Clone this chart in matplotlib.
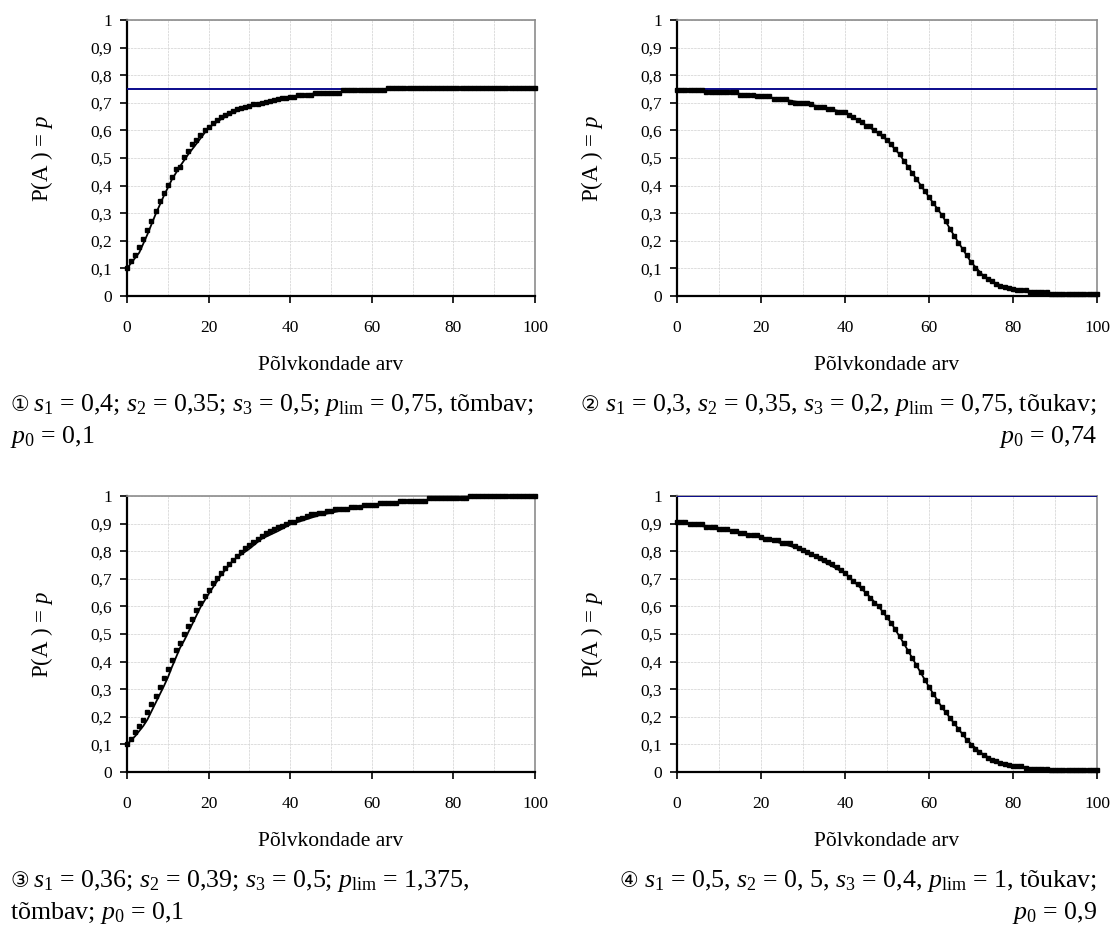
import matplotlib
matplotlib.use("Agg")
import matplotlib.pyplot as plt
from matplotlib.ticker import MultipleLocator

plt.rcParams['font.family'] = ['Liberation Serif', 'DejaVu Sans']
plt.rcParams['mathtext.fontset'] = 'custom'
plt.rcParams['mathtext.rm'] = 'Liberation Serif'
plt.rcParams['mathtext.it'] = 'Liberation Serif:italic'

# generations 0..100 for the dotted series
gens = list(range(101))

# panel 1: attracting, p0 = 0.1
dots1 = [0.100, 0.126, 0.148, 0.177, 0.205, 0.240, 0.271, 0.308, 0.344, 0.373,
         0.401, 0.431, 0.459, 0.468, 0.503, 0.527, 0.550, 0.565, 0.583, 0.600,
         0.614, 0.626, 0.637, 0.648, 0.656, 0.664, 0.671, 0.677, 0.681, 0.686,
         0.689, 0.694, 0.697, 0.700, 0.703, 0.707, 0.710, 0.713, 0.716, 0.719,
         0.722, 0.722, 0.728, 0.728, 0.728, 0.728, 0.737, 0.737, 0.737, 0.737,
         0.737, 0.737, 0.737, 0.745, 0.745, 0.745, 0.745, 0.745, 0.745, 0.745,
         0.745, 0.745, 0.745, 0.745, 0.752, 0.752, 0.752, 0.752, 0.752, 0.752,
         0.752, 0.752, 0.752, 0.752, 0.752, 0.752, 0.752, 0.752, 0.752, 0.752,
         0.752, 0.752, 0.752, 0.752, 0.752, 0.752, 0.752, 0.752, 0.752, 0.752,
         0.752, 0.752, 0.752, 0.752, 0.752, 0.752, 0.752, 0.752, 0.752, 0.752,
         0.752]
line1_x = [0, 3, 5, 7, 9, 11, 13, 15, 17.5, 20, 23, 26, 30, 35, 40, 46, 55, 65, 80, 100]
line1_y = [0.100, 0.157, 0.223, 0.296, 0.362, 0.422, 0.470, 0.513, 0.561, 0.610,
           0.640, 0.664, 0.688, 0.706, 0.720, 0.734, 0.742, 0.748, 0.750, 0.750]

# panel 2: repelling, p0 = 0.74
dots2 = [0.745, 0.745, 0.745, 0.745, 0.745, 0.745, 0.745, 0.738, 0.738, 0.738,
         0.738, 0.738, 0.738, 0.738, 0.738, 0.730, 0.730, 0.730, 0.730, 0.723,
         0.723, 0.723, 0.723, 0.715, 0.715, 0.715, 0.715, 0.703, 0.700, 0.700,
         0.700, 0.698, 0.695, 0.686, 0.686, 0.685, 0.678, 0.678, 0.665, 0.665,
         0.665, 0.657, 0.648, 0.639, 0.629, 0.617, 0.615, 0.600, 0.590, 0.578,
         0.565, 0.550, 0.533, 0.513, 0.490, 0.468, 0.446, 0.423, 0.400, 0.379,
         0.358, 0.337, 0.316, 0.295, 0.270, 0.244, 0.218, 0.193, 0.170, 0.147,
         0.123, 0.100, 0.085, 0.072, 0.062, 0.053, 0.045, 0.038, 0.033, 0.028,
         0.024, 0.020, 0.020, 0.020, 0.013, 0.013, 0.013, 0.013, 0.013, 0.006,
         0.006, 0.006, 0.006, 0.006, 0.006, 0.006, 0.006, 0.006, 0.006, 0.006,
         0.006]
line2_x = [0, 10, 20, 30, 40, 47, 50, 53, 56, 60, 63, 66, 70, 73, 76, 80, 85, 90, 100]
line2_y = [0.745, 0.740, 0.725, 0.700, 0.665, 0.600, 0.565, 0.513, 0.446, 0.358,
           0.295, 0.218, 0.123, 0.072, 0.045, 0.024, 0.013, 0.006, 0.004]

# panel 3: attracting, p0 = 0.1, limit above 1
dots3 = [0.100, 0.120, 0.145, 0.166, 0.190, 0.218, 0.248, 0.275, 0.308, 0.339,
         0.375, 0.405, 0.441, 0.468, 0.500, 0.528, 0.556, 0.586, 0.613, 0.637,
         0.661, 0.683, 0.704, 0.722, 0.738, 0.753, 0.768, 0.782, 0.798, 0.810,
         0.822, 0.834, 0.844, 0.855, 0.865, 0.873, 0.880, 0.886, 0.892, 0.898,
         0.904, 0.907, 0.915, 0.922, 0.927, 0.933, 0.933, 0.940, 0.940, 0.947,
         0.947, 0.954, 0.954, 0.954, 0.954, 0.961, 0.961, 0.961, 0.969, 0.969,
         0.969, 0.969, 0.976, 0.976, 0.976, 0.976, 0.976, 0.983, 0.983, 0.983,
         0.983, 0.983, 0.983, 0.983, 0.992, 0.992, 0.992, 0.992, 0.992, 0.992,
         0.992, 0.992, 0.992, 0.992, 1.000, 1.000, 1.000, 1.000, 1.000, 1.000,
         1.000, 1.000, 1.000, 1.000, 1.000, 1.000, 1.000, 1.000, 1.000, 1.000,
         1.000]
line3_x = [0, 2, 4, 5, 6, 7, 8, 9, 10, 11, 12, 13, 14, 16, 18, 20, 23, 26, 30, 33,
           37, 40, 47, 55, 65, 75, 85, 100]
line3_y = [0.100, 0.130, 0.167, 0.190, 0.220, 0.250, 0.280, 0.310, 0.342, 0.380,
           0.415, 0.450, 0.476, 0.536, 0.597, 0.645, 0.712, 0.767, 0.809, 0.845,
           0.873, 0.897, 0.930, 0.955, 0.975, 0.988, 0.996, 1.000]

# panel 4: repelling, p0 = 0.9
dots4 = [0.904, 0.904, 0.904, 0.897, 0.897, 0.897, 0.897, 0.889, 0.889, 0.889,
         0.880, 0.880, 0.880, 0.873, 0.873, 0.867, 0.867, 0.859, 0.859, 0.859,
         0.852, 0.846, 0.846, 0.840, 0.840, 0.828, 0.828, 0.828, 0.819, 0.813,
         0.804, 0.796, 0.790, 0.782, 0.774, 0.768, 0.760, 0.752, 0.744, 0.732,
         0.720, 0.707, 0.693, 0.681, 0.665, 0.649, 0.631, 0.613, 0.600, 0.580,
         0.560, 0.540, 0.518, 0.492, 0.466, 0.440, 0.413, 0.387, 0.361, 0.335,
         0.308, 0.283, 0.258, 0.236, 0.216, 0.197, 0.176, 0.155, 0.136, 0.117,
         0.099, 0.085, 0.073, 0.060, 0.052, 0.045, 0.039, 0.033, 0.028, 0.024,
         0.020, 0.020, 0.020, 0.016, 0.012, 0.012, 0.012, 0.012, 0.012, 0.006,
         0.006, 0.006, 0.006, 0.006, 0.006, 0.006, 0.006, 0.006, 0.006, 0.006,
         0.006]
line4_x = [0, 10, 20, 30, 40, 45, 48, 51, 54, 57, 60, 63, 66, 69, 72, 75, 80, 85, 90, 100]
line4_y = [0.904, 0.882, 0.852, 0.804, 0.720, 0.649, 0.600, 0.540, 0.466, 0.387,
           0.308, 0.236, 0.176, 0.117, 0.073, 0.045, 0.020, 0.012, 0.006, 0.004]

p_lims = [0.75, 0.75, 1.375, 1.0]

x_ticks = [0, 20, 40, 60, 80, 100]
y_ticks = [0, 0.1, 0.2, 0.3, 0.4, 0.5, 0.6, 0.7, 0.8, 0.9, 1.0]
y_ticklabels = ['0', '0,1', '0,2', '0,3', '0,4', '0,5', '0,6', '0,7', '0,8', '0,9', '1']

captions = [
    ('①', r'$s_1$ = 0,4; $s_2$ = 0,35; $s_3$ = 0,5; $p_{\mathrm{lim}}$ = 0,75, tõmbav;',
     r'$p_0$ = 0,1', 'left'),
    ('②', r'$s_1$ = 0,3, $s_2$ = 0,35, $s_3$ = 0,2, $p_{\mathrm{lim}}$ = 0,75, tõukav;',
     r'$p_0$ = 0,74', 'right'),
    ('③', r'$s_1$ = 0,36; $s_2$ = 0,39; $s_3$ = 0,5; $p_{\mathrm{lim}}$ = 1,375,',
     r'tõmbav; $p_0$ = 0,1', 'left'),
    ('④', r'$s_1$ = 0,5, $s_2$ = 0, 5, $s_3$ = 0,4, $p_{\mathrm{lim}}$ = 1, tõukav;',
     r'$p_0$ = 0,9', 'right'),
]

W, H = 1117, 932
fig = plt.figure(figsize=(W / 100, H / 100), dpi=100)

# axes boxes in pixels: left, right, top, bottom
boxes = [(127, 535, 20, 296), (677, 1097, 20, 296),
         (127, 535, 496, 772), (677, 1097, 496, 772)]
all_dots = [dots1, dots2, dots3, dots4]
all_lines = [(line1_x, line1_y), (line2_x, line2_y), (line3_x, line3_y), (line4_x, line4_y)]

cap_size = 18.6

for i in range(4):
    l, r, t, b = boxes[i]
    ax = fig.add_axes([l / W, 1 - b / H, (r - l) / W, (b - t) / H])
    ax.set_xlim(0, 100)
    ax.set_ylim(0, 1)
    ax.set_xticks(x_ticks)
    ax.xaxis.set_minor_locator(MultipleLocator(10))
    ax.set_yticks(y_ticks)
    ax.set_yticklabels(y_ticklabels)
    ax.grid(True, which='both', color='#d8d8d8', linestyle=(0, (3, 1)), linewidth=0.6)
    ax.tick_params(axis='x', which='minor', length=0)
    ax.tick_params(axis='both', which='major', direction='out', length=5, width=1.2,
                   labelsize=12.5, colors='black')
    ax.tick_params(axis='x', pad=12)
    ax.tick_params(axis='y', pad=6)
    for s in ['left', 'bottom']:
        ax.spines[s].set_color('black')
        ax.spines[s].set_linewidth(1.6)
    for s in ['top', 'right']:
        ax.spines[s].set_color('#8c8c8c')
        ax.spines[s].set_linewidth(1.2)

    ax.axhline(p_lims[i], color='#0a0a8c', linewidth=1.4, zorder=3)
    lx, ly = all_lines[i]
    ax.plot(lx, ly, color='black', linewidth=1.3, zorder=4)
    ax.plot(gens, all_dots[i], linestyle='none', marker='s', markersize=2.8,
            color='black', zorder=5, clip_on=False)

    ax.set_xlabel('Põlvkondade arv', fontsize=15.5, labelpad=15)
    ax.set_ylabel(r'P(A ) = $p$', fontsize=16.5, labelpad=25)

    # caption under the panel
    num, line_a, line_b, align = captions[i]
    y1 = 1 - (b + 115) / H
    y2 = 1 - (b + 147) / H
    if align == 'left':
        fig.text(10 / W, y1, num, fontsize=15, family='DejaVu Sans', va='baseline')
        fig.text(33 / W, y1, line_a, fontsize=cap_size, va='baseline')
        fig.text(10 / W, y2, line_b, fontsize=cap_size, va='baseline')
    else:
        txt = fig.text(r / W, y1, line_a, fontsize=cap_size, va='baseline', ha='right')
        fig.text(r / W, y2, line_b, fontsize=cap_size, va='baseline', ha='right')
        numtxt = fig.text(0, y1, num, fontsize=15, family='DejaVu Sans',
                          ha='right', va='baseline')
        # place the circled number just left of the first line
        fig.canvas.draw()
        bb = txt.get_window_extent()
        numtxt.set_position(((bb.x0 - 6) / W, y1))

fig.savefig('out.png', dpi=100)
